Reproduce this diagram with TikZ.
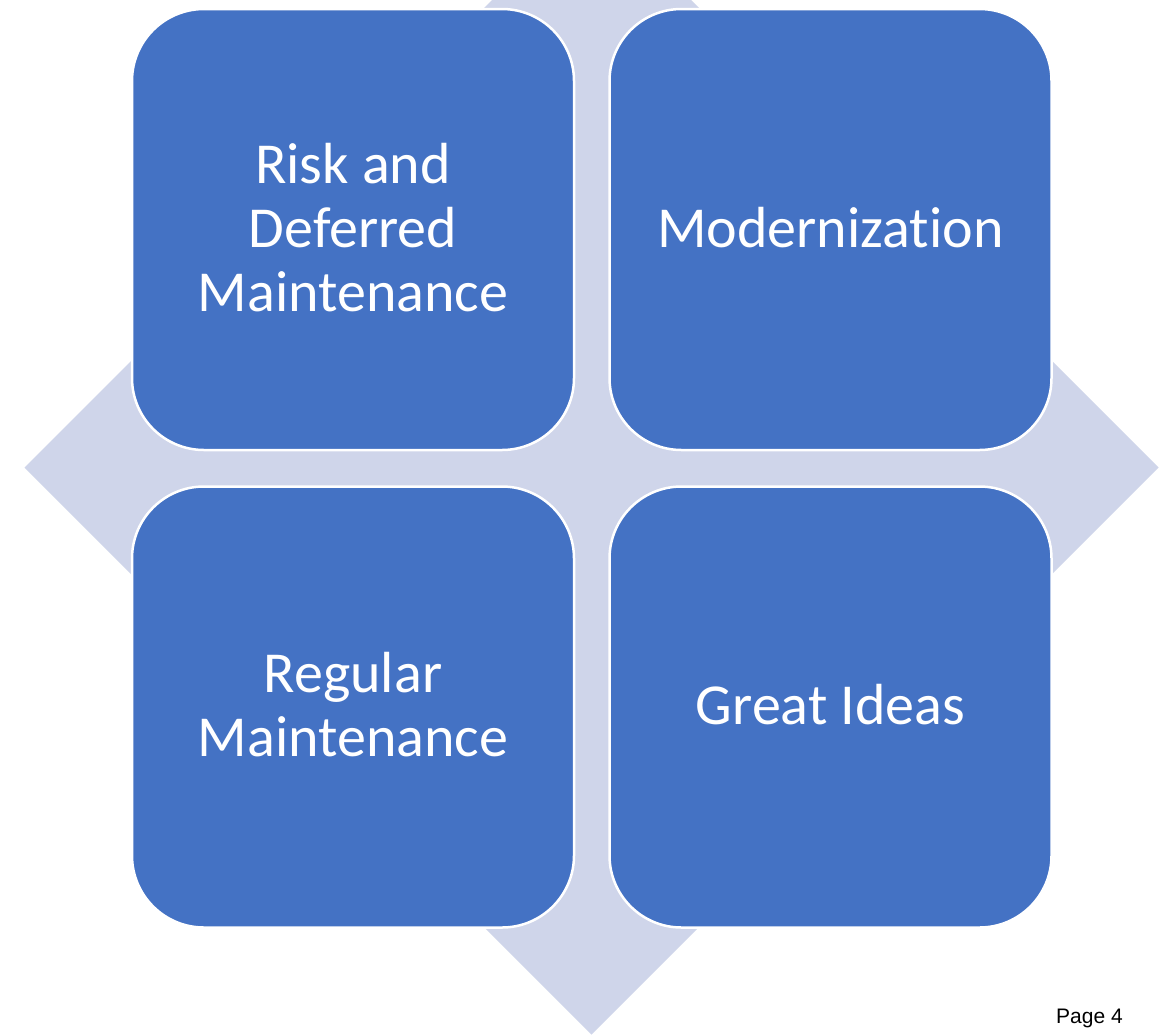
\documentclass[tikz,border=0pt]{standalone}
\usepackage{fontspec}
\newfontfamily\carlito[Ligatures=NoCommon]{Carlito}
\newfontfamily\arialfont{Liberation Sans}
\definecolor{boxblue}{HTML}{4472C4}
\definecolor{diamondcol}{HTML}{CFD5EA}
\tikzset{
  quad/.style={rectangle, rounded corners=72pt, fill=boxblue, draw=white, line width=2.5pt,
    minimum width=442pt, minimum height=441pt, inner sep=0pt},
  quadtext/.style={inner sep=0pt, align=center, text=white,
    font=\carlito\fontsize{58}{64}\selectfont},
  pagelabel/.style={inner sep=0pt, anchor=base west, font=\arialfont\fontsize{21}{24}\selectfont, text=black}
}
\begin{document}
\begin{tikzpicture}[x=1pt,y=-1pt]
\useasboundingbox (0,0) rectangle (1167,1034);
\clip (0,0) rectangle (1167,1034);
\fill[white] (0,0) rectangle (1167,1034);
\coordinate (dl) at (24.5,467.5);
\coordinate (dt) at (591.5,-99.5);
\coordinate (dr) at (1158.5,467.5);
\coordinate (db) at (591.5,1034.5);
\fill[diamondcol] (dl) -- (dt) -- (dr) -- (db) -- cycle;
\node[quad] (tl) at (353,229.5) {};
\node[quad] (tr) at (830.5,229.5) {};
\node[quad] (bl) at (353,707) {};
\node[quad] (br) at (830.5,707) {};
\node[quadtext] (tlt) at ([yshift=2pt]tl.center) {Risk and\\Deferred\\Maintenance};
\node[quadtext] (trt) at ([yshift=2pt]tr.center) {Modernization};
\node[quadtext] (blt) at ([yshift=2pt]bl.center) {Regular\\Maintenance};
\node[quadtext] (brt) at ([yshift=2pt]br.center) {Great Ideas};
\node[pagelabel] (pg) at (1056,1023) {Page 4};
\end{tikzpicture}
\end{document}
